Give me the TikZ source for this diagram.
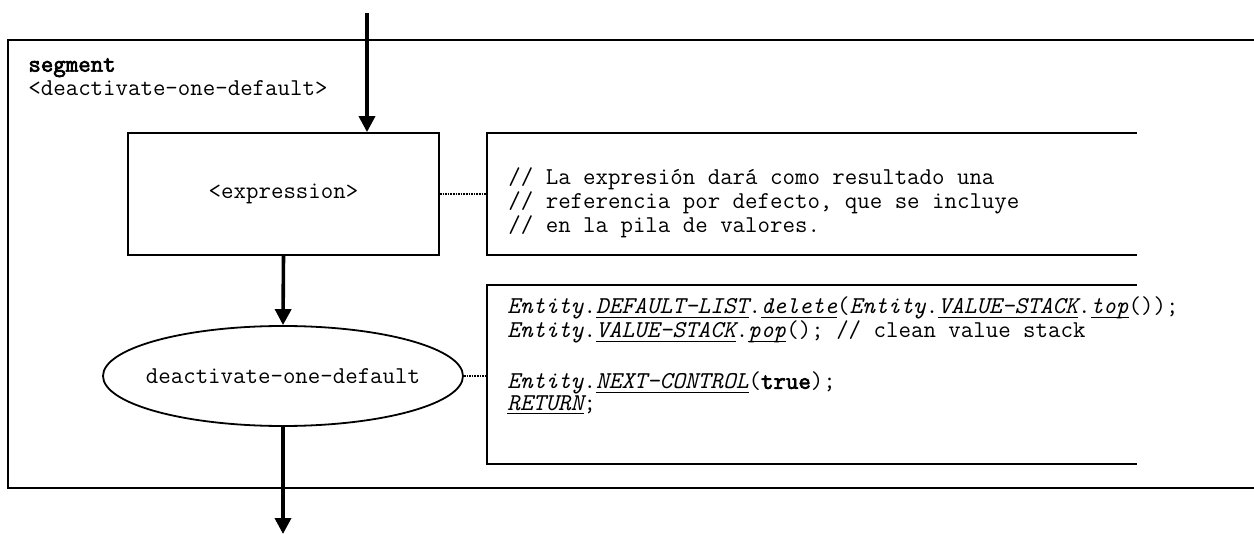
\documentclass[tikz,border=0pt]{standalone}
\usepackage{fontspec}
\setmonofont{Latin Modern Mono}[BoldFont={Latin Modern Mono},BoldFeatures={FakeBold=3}]
\usetikzlibrary{arrows.meta,shapes.geometric}
\newcommand{\ulx}[1]{\setbox0\hbox{\itshape #1}\rlap{\smash{\rule[-2.2pt]{\wd0}{0.5pt}}}\box0}
\newcommand{\itx}[1]{{\itshape #1}}
\begin{document}
\begin{tikzpicture}[x=0.5pt,y=-0.5pt,
  every node/.style={font=\ttfamily\fontsize{12.1}{10.6}\selectfont},
  line/.style={line width=0.9pt},
  flow/.style={line width=1.8pt,-{Triangle[length=8pt,width=8pt]}},
  dots/.style={line width=1.3pt,dash pattern=on 0.8pt off 0.5pt},
  procbox/.style={draw,line width=0.9pt,rectangle,inner sep=0pt,minimum width=155.5pt,minimum height=61pt},
  procell/.style={draw,line width=0.9pt,ellipse,inner sep=0pt,minimum width=180pt,minimum height=50pt},
  slot/.style={rectangle,inner sep=0pt,anchor=north west},
  ctext/.style={align=left,anchor=west,inner sep=0pt}
]
\useasboundingbox (0,0) rectangle (1254,534);

% outer frame (open at the right)
\coordinate (ftl) at (8,40);
\coordinate (fbl) at (8,488);
\coordinate (ftr) at (1254,40);
\coordinate (fbr) at (1254,488);
\draw[line] (ftr) -- (ftl) -- (fbl) -- (fbr);

\node[align=left,anchor=west,inner sep=0pt,font=\ttfamily\fontsize{12.1}{12}\selectfont] (title) at (28,77)
  {\textbf{segment}\\<deactivate-one-default>};

% flow nodes
\node[procbox] (expr) at (283.5,194) {<expression>};
\node[procell] (ell) at (283,376) {\makebox[0pt]{deactivate-one-default}};

% comment boxes (open at the right)
\node[slot,minimum width=324.5pt,minimum height=60.5pt] (c1) at (487,133) {};
\draw[line] (c1.north east) -- (c1.north west) -- (c1.south west) -- (c1.south east);
\node[slot,minimum width=324.5pt,minimum height=89pt] (c2) at (487,285) {};
\draw[line] (c2.north east) -- (c2.north west) -- (c2.south west) -- (c2.south east);

\node[ctext] (t1) at (508,203)
  {// La expresión dará como resultado una\\
   // referencia por defecto, que se incluye\\
   // en la pila de valores.};

\node[ctext] (t2) at (507,355)
  {\itx{Entity}.\ulx{DEFAULT-LIST}.\ulx{delete}(\itx{Entity}.\ulx{VALUE-STACK}.\ulx{top}());\\
   \itx{Entity}.\ulx{VALUE-STACK}.\ulx{pop}(); // clean value stack\\[13.4pt]
   \itx{Entity}.\ulx{NEXT-CONTROL}(\textbf{true});\\
   \ulx{RETURN};};

% connectors
\coordinate (in) at (367,13);
\coordinate (out) at (283,534);
\draw[flow] (in) -- (in |- expr.north);
\draw[flow] (expr.south) -- (ell.north);
\draw[flow] (ell.south) -- (out);
\draw[dots] (expr.east) -- (expr.east -| c1.west);
\draw[dots] (ell.east) -- (ell.east -| c2.west);
\end{tikzpicture}
\end{document}
